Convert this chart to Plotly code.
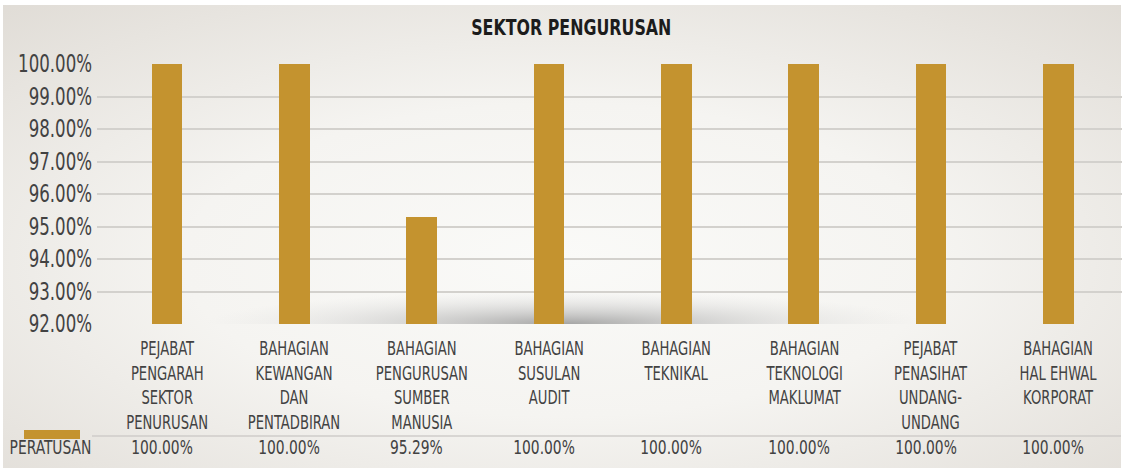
import base64
import json
import plotly.graph_objects as go

# ---- data -------------------------------------------------------------
categories = [
    "PEJABAT<br>PENGARAH<br>SEKTOR<br>PENURUSAN",
    "BAHAGIAN<br>KEWANGAN<br>DAN<br>PENTADBIRAN",
    "BAHAGIAN<br>PENGURUSAN<br>SUMBER<br>MANUSIA",
    "BAHAGIAN<br>SUSULAN<br>AUDIT",
    "BAHAGIAN<br>TEKNIKAL",
    "BAHAGIAN<br>TEKNOLOGI<br>MAKLUMAT",
    "PEJABAT<br>PENASIHAT<br>UNDANG-<br>UNDANG",
    "BAHAGIAN<br>HAL EHWAL<br>KORPORAT",
]
peratusan = [100.00, 100.00, 95.29, 100.00, 100.00, 100.00, 100.00, 100.00]
series_name = "PERATUSAN"
title_text = "SEKTOR PENGURUSAN"
y_ticks = [92, 93, 94, 95, 96, 97, 98, 99, 100]

# ---- geometry ---------------------------------------------------------
W, H = 1123, 470
L, R, T, B = 97, 1, 64, 146
PW, PH = W - L - R, H - T - B

FONT = "DejaVu Sans Condensed, Liberation Sans Narrow, sans-serif"
GOLD = "#C4932F"
TEXT = "#424242"


def px_x(x):
    return (x - L) / PW


def px_y(y):
    return (H - B - y) / PH


xs = list(range(len(categories)))

# ---- background: soft radial wash with a shadow under the plot floor --
floor = H - B
svg = f"""<svg xmlns='http://www.w3.org/2000/svg' width='{W}' height='{H}' viewBox='0 0 {W} {H}'>
<defs>
<radialGradient id='bg' cx='0.5' cy='0.55' r='0.75'>
<stop offset='0' stop-color='#fafaf8'/>
<stop offset='0.45' stop-color='#f5f4f1'/>
<stop offset='1' stop-color='#e0dcd6'/>
</radialGradient>
<radialGradient id='sh' cx='0.5' cy='0.5' r='0.5'>
<stop offset='0' stop-color='#969696' stop-opacity='0.85'/>
<stop offset='0.35' stop-color='#b0b0b0' stop-opacity='0.55'/>
<stop offset='0.7' stop-color='#c8c8c8' stop-opacity='0.25'/>
<stop offset='1' stop-color='#d8d8d8' stop-opacity='0'/>
</radialGradient>
<clipPath id='cp'><rect x='0' y='0' width='{W}' height='{floor}'/></clipPath>
</defs>
<rect x='0' y='0' width='{W}' height='{H}' fill='#ffffff'/>
<rect x='3' y='5' width='{W - 5}' height='{H - 7}' fill='url(#bg)'/>
<g clip-path='url(#cp)'>
<ellipse cx='565' cy='{floor}' rx='360' ry='33' fill='url(#sh)'/>
</g>
</svg>"""
bg_src = "data:image/svg+xml;base64," + base64.b64encode(svg.encode()).decode()

fig = go.Figure()
fig.add_trace(
    go.Bar(
        x=xs,
        y=[v - y_ticks[0] for v in peratusan],
        base=y_ticks[0],
        width=0.24,
        marker=dict(color=GOLD, line=dict(width=0)),
        name=series_name,
        showlegend=False,
        hoverinfo="skip",
    )
)

annotations = []
# category labels (table header row)
for x, lab in zip(xs, categories):
    annotations.append(dict(
        x=x, y=px_y(335), xref="x", yref="paper", text=lab, showarrow=False,
        xanchor="center", yanchor="top", align="center",
        font=dict(family=FONT, size=19, color=TEXT),
    ))
# values row
for x, v in zip(xs, peratusan):
    annotations.append(dict(
        x=x - 0.04, y=px_y(447), xref="x", yref="paper", text=f"{v:.2f}%",
        showarrow=False, xanchor="center", yanchor="middle",
        font=dict(family=FONT, size=20, color=TEXT),
    ))
# row label
annotations.append(dict(
    x=px_x(93), y=px_y(447), xref="paper", yref="paper", text=series_name,
    showarrow=False, xanchor="right", yanchor="middle", align="right",
    font=dict(family=FONT, size=20, color=TEXT),
))
# title
annotations.append(dict(
    x=px_x(571), y=px_y(28), xref="paper", yref="paper",
    text=f"<b>{title_text}</b>", showarrow=False,
    xanchor="center", yanchor="middle",
    font=dict(family=FONT, size=21, color="#1c1c1c"),
))

shapes = [
    # legend key
    dict(type="rect", xref="paper", yref="paper",
         x0=px_x(24), x1=px_x(80), y0=px_y(439), y1=px_y(430),
         fillcolor=GOLD, line=dict(width=0), layer="above"),
    # table separator
    dict(type="line", xref="paper", yref="paper",
         x0=px_x(92), x1=px_x(1121), y0=px_y(436), y1=px_y(436),
         line=dict(color="#cfcdca", width=1.5)),
]

fig.update_layout(
    width=W, height=H,
    margin=dict(l=L, r=R, t=T, b=B, pad=0),
    paper_bgcolor="rgba(0,0,0,0)",
    plot_bgcolor="rgba(0,0,0,0)",
    bargap=0,
    images=[dict(
        source=bg_src, xref="paper", yref="paper",
        x=-L / PW, y=1 + T / PH, sizex=W / PW, sizey=H / PH,
        xanchor="left", yanchor="top", sizing="stretch", layer="below",
    )],
    xaxis=dict(
        range=[-0.55, 7.5], showticklabels=False, showgrid=False,
        zeroline=False, showline=False, ticks="", fixedrange=True,
        automargin=False,
    ),
    yaxis=dict(
        range=[y_ticks[0], y_ticks[-1]], tickvals=y_ticks,
        ticktext=[f"{t:.2f}%" for t in y_ticks],
        showgrid=True, gridcolor="#d3d1cd", gridwidth=1.5,
        zeroline=False, showline=False, ticks="",
        ticklabelstandoff=4, automargin=False,
        tickfont=dict(family=FONT, size=24, color=TEXT),
        fixedrange=True,
    ),
    annotations=annotations,
    shapes=shapes,
)

# Narrow the condensed face a little further: every text is squeezed
# horizontally about its own anchor point.
post = """
var gd = document.getElementById('{plot_id}');
var title = %s;
gd.querySelectorAll('text').forEach(function (t) {
  var s = (t.textContent === title) ? 0.84 : 0.77;
  var x = parseFloat(t.getAttribute('x') || '0');
  var tr = t.getAttribute('transform') || '';
  t.setAttribute('transform', tr + ' translate(' + x + ',0) scale(' + s + ',1) translate(' + (-x) + ',0)');
});
""" % json.dumps(title_text)

fig.write_html("out.html", config=dict(displayModeBar=False), post_script=post)
